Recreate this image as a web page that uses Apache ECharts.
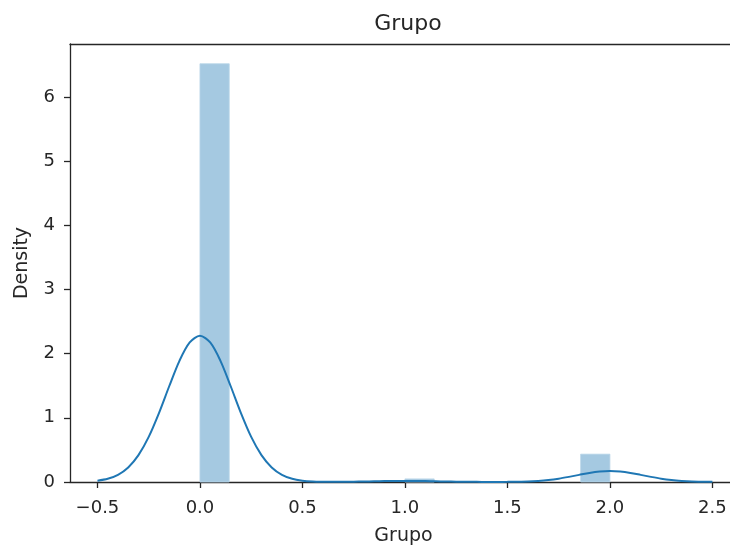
<!DOCTYPE html>
<html>
<head>
<meta charset="utf-8">
<script src="https://cdn.jsdelivr.net/npm/echarts@6/dist/echarts.min.js"></script>
<style>
  html, body { margin: 0; padding: 0; background: #fff; }
  #chart { width: 730px; height: 545px; }
</style>
</head>
<body>
<div id="chart"></div>
<script>
// Histogram bins (edges) and their densities
const binEdges = [0, 0.142857, 0.285714, 0.428571, 0.571429, 0.714286, 0.857143, 1.0,
                  1.142857, 1.285714, 1.428571, 1.571429, 1.714286, 1.857143, 2.0];
const binDensity = [6.517, 0, 0, 0, 0, 0, 0, 0.048, 0, 0, 0, 0, 0, 0.434];

// Kernel density curve samples
const kdeX = [-0.50, -0.45, -0.40, -0.35, -0.30, -0.25, -0.20, -0.15, -0.10, -0.05,
               0.00, 0.05, 0.10, 0.15, 0.20, 0.25, 0.30, 0.35, 0.40, 0.45,
               0.50, 0.55, 0.60, 0.65, 0.70, 0.75, 0.80, 0.85, 0.90, 0.95,
               1.00, 1.05, 1.10, 1.15, 1.20, 1.25, 1.30, 1.35, 1.40, 1.45,
               1.50, 1.55, 1.60, 1.65, 1.70, 1.75, 1.80, 1.85, 1.90, 1.95,
               2.00, 2.05, 2.10, 2.15, 2.20, 2.25, 2.30, 2.35, 2.40, 2.45, 2.50];
const kdeY = [0.021, 0.050, 0.112, 0.227, 0.419, 0.703, 1.074, 1.492, 1.888, 2.174,
              2.279, 2.174, 1.888, 1.492, 1.074, 0.703, 0.419, 0.227, 0.112, 0.050,
              0.021, 0.008, 0.004, 0.003, 0.003, 0.005, 0.008, 0.011, 0.014, 0.016,
              0.017, 0.016, 0.014, 0.011, 0.008, 0.005, 0.003, 0.002, 0.001, 0.001,
              0.002, 0.004, 0.008, 0.017, 0.031, 0.052, 0.080, 0.111, 0.141, 0.162,
              0.170, 0.162, 0.141, 0.111, 0.080, 0.052, 0.031, 0.017, 0.008, 0.004, 0.002];

// Tick labels
const xTicks = [-0.5, 0.0, 0.5, 1.0, 1.5, 2.0, 2.5];
const yTicks = [0, 1, 2, 3, 4, 5, 6];

const chartTitle = 'Grupo';
const xName = 'Grupo';
const yName = 'Density';

const FONT = '"DejaVu Sans", sans-serif';
const INK = '#262626';
const X_MIN = -0.634, X_MAX = 2.62;

const histData = binDensity.map((d, i) => [binEdges[i], binEdges[i + 1], d]);
const kdeData = kdeX.map((x, i) => [x, kdeY[i]]);

const spine = { show: true, onZero: false, lineStyle: { color: INK, width: 1.3 } };

const chart = echarts.init(document.getElementById('chart'), null, { renderer: 'canvas' });

chart.setOption({
  animation: false,
  backgroundColor: '#fff',
  title: {
    text: chartTitle,
    left: 403,
    textAlign: 'center',
    top: 8,
    textStyle: { fontFamily: FONT, fontSize: 22, fontWeight: 'normal', color: INK }
  },
  grid: {
    left: 70, top: 44, width: 667, bottom: 63,
    outerBoundsMode: 'none',
    containLabel: false,
    show: false
  },
  xAxis: [
    {
      type: 'value',
      position: 'bottom',
      min: X_MIN, max: X_MAX,
      name: xName,
      nameLocation: 'middle',
      nameGap: 45,
      nameTextStyle: { fontFamily: FONT, fontSize: 19, color: INK },
      axisLine: spine,
      splitLine: { show: false },
      axisTick: { show: true, customValues: xTicks, length: 6, lineStyle: { color: INK, width: 1.3 } },
      axisLabel: {
        customValues: xTicks,
        margin: 17,
        fontFamily: FONT, fontSize: 18, color: INK,
        formatter: v => v.toFixed(1).replace('-', '\u2212')
      }
    },
    {
      // top spine
      type: 'value',
      position: 'top',
      min: X_MIN, max: X_MAX,
      axisLine: spine,
      axisTick: { show: false },
      axisLabel: { show: false },
      splitLine: { show: false }
    }
  ],
  yAxis: {
    type: 'value',
    min: 0, max: 6.825,
    name: yName,
    nameLocation: 'middle',
    nameGap: 38,
    nameTextStyle: { fontFamily: FONT, fontSize: 19, color: INK },
    axisLine: spine,
    splitLine: { show: false },
    axisTick: { show: true, customValues: yTicks, length: 6, lineStyle: { color: INK, width: 1.3 } },
    axisLabel: {
      customValues: yTicks,
      margin: 15,
      fontFamily: FONT, fontSize: 18, color: INK,
      formatter: v => String(v)
    }
  },
  series: [
    {
      type: 'custom',
      name: 'hist',
      data: histData,
      encode: { x: [0, 1], y: 2 },
      z: 1,
      renderItem: function (params, api) {
        const h = api.value(2);
        if (!(h > 0)) return null;
        const p0 = api.coord([api.value(0), h]);
        const p1 = api.coord([api.value(1), 0]);
        return {
          type: 'rect',
          shape: { x: p0[0], y: p0[1], width: p1[0] - p0[0], height: p1[1] - p0[1] },
          style: { fill: '#a5c9e1', stroke: '#b9d5e9', lineWidth: 0.8 }
        };
      }
    },
    {
      type: 'line',
      name: 'kde',
      data: kdeData,
      smooth: 0.3,
      showSymbol: false,
      symbol: 'none',
      z: 2,
      lineStyle: { color: '#1f77b4', width: 2 }
    }
  ]
});
</script>
</body>
</html>
